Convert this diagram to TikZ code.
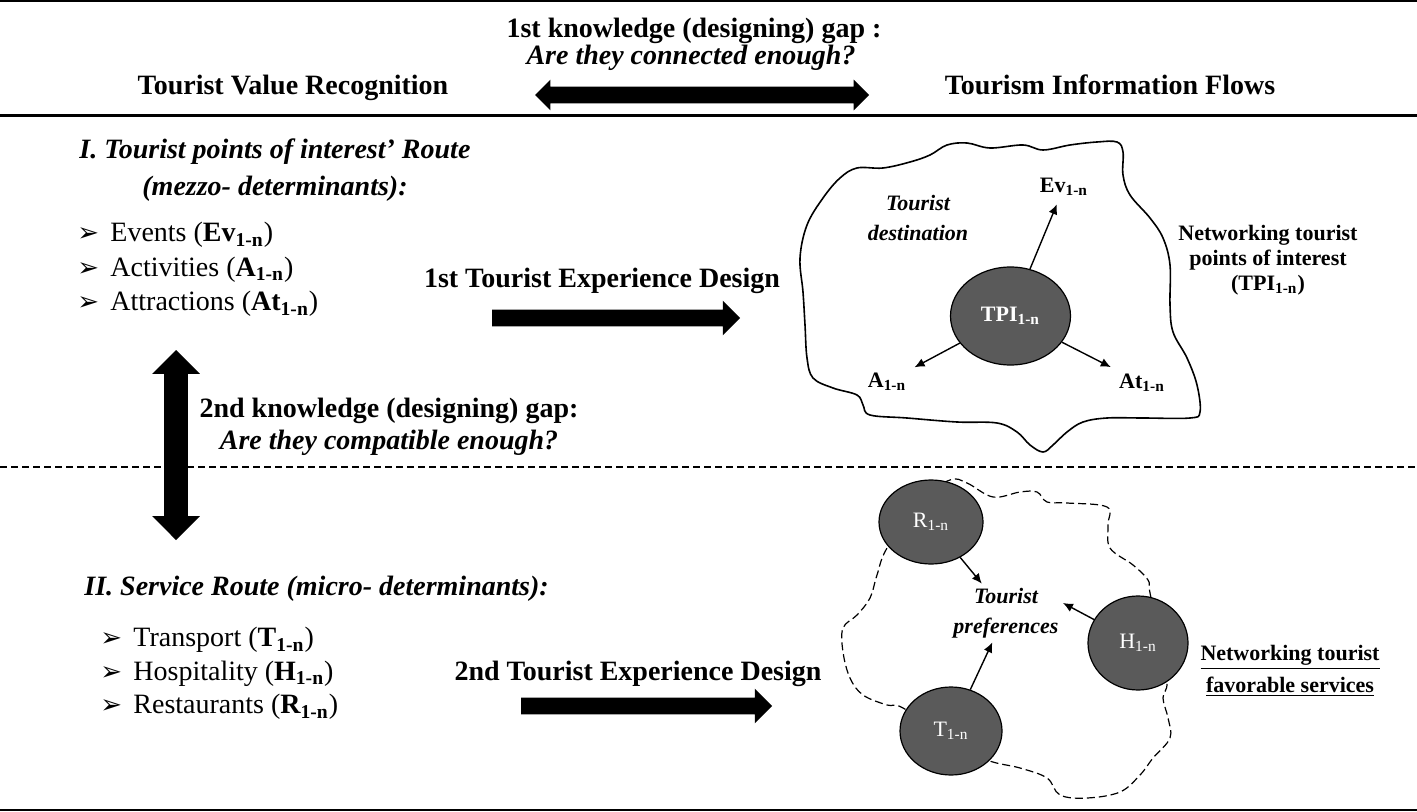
\documentclass[tikz,border=0pt]{standalone}
\usepackage{fontspec}
\setmainfont{Liberation Serif}
\newfontfamily\arrowfont{DejaVu Sans}
\usetikzlibrary{shapes.geometric}
\usetikzlibrary{shapes.arrows}
\usetikzlibrary{arrows.meta}
\definecolor{cellgray}{RGB}{90,90,90}
\newcommand{\rng}{\textsubscript{1-n}}
\newcommand{\bul}{\makebox[16.5pt][l]{\fontsize{13}{15}\arrowfont ➢}}

\begin{document}
\begin{tikzpicture}[x=0.5pt, y=-0.5pt,
    every node/.style={font=\fontsize{14}{17}\selectfont, inner sep=0pt},
    head/.style={font=\fontsize{14}{17}\selectfont\bfseries},
    ask/.style={font=\fontsize{14}{17}\selectfont\bfseries\itshape},
    item/.style={anchor=west},
    note/.style={font=\fontsize{11}{12.5}\selectfont\bfseries, align=center},
    tag/.style={font=\fontsize{11}{13}\selectfont\bfseries, inner sep=4pt},
    spot/.style={ellipse, draw=black, line width=0.6pt, fill=cellgray, text=white, font=\fontsize{11}{13}\selectfont},
    fat/.style={single arrow, fill=black, inner xsep=0pt, inner ysep=4pt, single arrow head extend=4.5pt},
    fatboth/.style={double arrow, fill=black, inner xsep=0pt},
    link/.style={-{Latex[length=5pt,width=4.5pt]}, line width=0.7pt}]
    \useasboundingbox (0,0) rectangle (1417,812);
    % frame lines
    \draw[line width=1pt] (0,1.5) -- (1417,1.5);
    \draw[line width=1.5pt] (0,116) -- (1417,116);
    \draw[line width=1pt] (0,810) -- (1417,810);
    \draw[line width=0.6pt, dash pattern=on 3.5pt off 2pt] (0,467) -- (1417,467);

    % header
    \node[head] (gap1) at (694,31) {1st knowledge (designing) gap :};
    \node[ask] (ask1) at (691,58) {Are they connected enough?};
    \node[head] (value) at (293,88) {Tourist Value Recognition};
    \node[head] (flows) at (1110,85) {Tourism Information Flows};
    \node[fatboth, minimum height=167pt, inner ysep=4pt, double arrow head extend=3.5pt] (link1) at (702,95) {};

    % I. points of interest
    \node[ask, item] (route1) at (79,152) {I. Tourist points of interest’ Route};
    \node[ask] (mezzo) at (275,189) {(mezzo- determinants):};
    \foreach \i/\txt in {0/{Events (\textbf{Ev\rng})}, 1/{Activities (\textbf{A\rng})}, 2/{Attractions (\textbf{At\rng})}}
        \node[item] (poi\i) at (77,{235+34.5*\i}) {\bul\txt};
    \node[head] (design1) at (602,281) {1st Tourist Experience Design};
    \node[fat, minimum height=124pt] (go1) at (612,318) {};

    % second gap
    \node[fatboth, rotate=90, minimum height=95pt, inner ysep=5.75pt, double arrow head extend=6pt] (link2) at (176,445) {};
    \node[head] (gap2) at (389,411) {2nd knowledge (designing) gap:};
    \node[ask] (ask2) at (389,443) {Are they compatible enough?};

    % II. services
    \node[ask, item] (route2) at (84,589) {II. Service Route (micro- determinants):};
    \foreach \i/\txt in {0/{Transport (\textbf{T\rng})}, 1/{Hospitality (\textbf{H\rng})}, 2/{Restaurants (\textbf{R\rng})}}
        \node[item] (svc\i) at (100,{640+33.5*\i}) {\bul\txt};
    \node[head] (design2) at (638,674) {2nd Tourist Experience Design};
    \node[fat, minimum height=125.5pt] (go2) at (642.5,706) {};

    % tourist destination
    \draw[line width=0.8pt] plot[smooth cycle, tension=0.6] coordinates {
        (800,258) (807,225) (823,198) (840,178) (857,168) (883,168) (910,162)
        (930,155) (947,145) (967,143) (990,148) (1023,145) (1043,150) (1070,145)
        (1097,142) (1117,142) (1123,152) (1123,175) (1130,195) (1150,218)
        (1163,238) (1170,265) (1170,305) (1173,332) (1187,358) (1197,385)
        (1200,412) (1190,418) (1143,418) (1107,418) (1083,422) (1067,432)
        (1053,445) (1043,452) (1030,445) (1017,432) (997,423) (957,422)
        (907,418) (870,415) (863,405) (857,395) (833,388) (813,378) (807,358)
        (805,325) (803,292)};
    \node[font=\fontsize{11}{15}\selectfont\bfseries\itshape, align=center] (dest) at (918,218) {Tourist\\destination};
    \node[spot, minimum width=60pt, minimum height=49pt, font=\fontsize{11}{13}\selectfont\bfseries] (tpi) at (1010.5,316) {TPI\rng};
    \node[tag] (ev) at (1064,187) {Ev\rng};
    \node[tag] (act) at (887,382) {A\rng};
    \node[tag] (att) at (1142,383) {At\rng};
    \draw[link] (tpi) -- (ev);
    \draw[link] (tpi) -- (act);
    \draw[link] (tpi) -- (att);
    \node[note] (net1) at (1268,260) {Networking tourist\\points of interest\\(TPI\rng)};

    % favourable services
    \draw[line width=0.6pt, dash pattern=on 4pt off 2pt] plot[smooth cycle, tension=0.6] coordinates {
        (950,480) (967,483) (993,497) (1020,492) (1037,492) (1047,502) (1067,503)
        (1107,507) (1108,525) (1110,548) (1133,565) (1148,580) (1150,593)
        (1160,640) (1167,682) (1163,698) (1168,718) (1170,738) (1153,758)
        (1140,775) (1120,792) (1087,798) (1060,795) (1047,778) (1020,768)
        (987,760) (950,740) (903,708) (887,705) (863,695) (850,678) (843,652)
        (843,628) (857,615) (870,598) (877,575) (887,548) (920,500)};
    \node[spot, minimum width=52pt, minimum height=42pt] (rest) at (931,522) {R\rng};
    \node[spot, minimum width=50pt, minimum height=47pt] (hosp) at (1138,643) {H\rng};
    \node[spot, minimum width=51pt, minimum height=44pt] (trans) at (951,731) {T\rng};
    \node[font=\fontsize{11}{15}\selectfont\bfseries\itshape, align=center, inner sep=2pt] (pref) at (1006,613) {Tourist\\preferences};
    \draw[link] (rest) -- (pref);
    \draw[link] (hosp) -- (pref.10);
    \draw[link] (trans) -- (pref);
    \node[note, font=\fontsize{11}{16}\selectfont\bfseries] (net2) at (1290,671) {\underline{Networking tourist}\\\underline{favorable services}};
\end{tikzpicture}
\end{document}
